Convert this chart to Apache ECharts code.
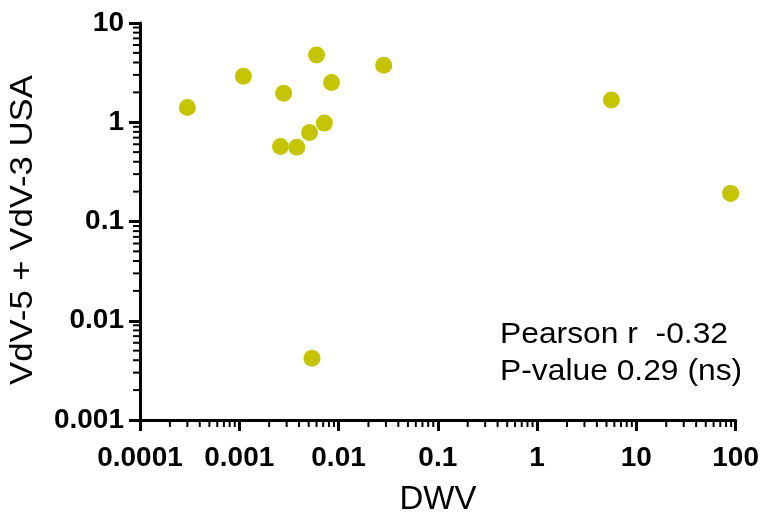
<!DOCTYPE html>
<html>
<head>
<meta charset="utf-8">
<script src="https://cdn.jsdelivr.net/npm/echarts@6/dist/echarts.min.js"></script>
<style>html,body{margin:0;padding:0;background:#fff}#c{width:762px;height:514px}</style>
</head>
<body>
<div id="c"></div>
<script>
// DWV (x) values
var dwv = [0.00030, 0.0011, 0.0028, 0.0060, 0.0085, 0.0285, 0.0072, 0.0051, 0.0026, 0.0038, 0.0054, 5.6, 89];
// VdV-5 + VdV-3 USA (y) values
var vdv = [1.41, 2.9, 1.96, 4.75, 2.52, 3.76, 0.98, 0.79, 0.57, 0.56, 0.0042, 1.68, 0.192];
var xTickLabels = ['0.0001', '0.001', '0.01', '0.1', '1', '10', '100'];
var yTickLabels = ['0.001', '0.01', '0.1', '1', '10'];
var statsLines = ['Pearson r  -0.32', 'P-value 0.29 (ns)'];
var xTitle = 'DWV';
var yTitle = 'VdV-5 + VdV-3 USA';

var X_MIN = 0.0001, X_MAX = 100, Y_MIN = 0.001, Y_MAX = 10;

function minorValues(minExp, maxExp) {
  var out = [];
  for (var e = minExp; e < maxExp; e++) {
    for (var m = 2; m <= 9; m++) out.push(m * Math.pow(10, e));
  }
  return out;
}
function labelFor(list, minExp) {
  return function (v) {
    var i = Math.round(Math.log10(v)) - minExp;
    return list[i] !== undefined ? list[i] : '';
  };
}

var FONT = '"Liberation Sans", Arial, sans-serif';
var TICK = '#000000';
var data = dwv.map(function (x, i) { return [x, vdv[i]]; });
var xMinorData = minorValues(-4, 2).map(function (v) { return [v, Y_MIN]; });
var yMinorData = minorValues(-3, 1).map(function (v) { return [X_MIN, v]; });

var chart = echarts.init(document.getElementById('c'));
chart.setOption({
  animation: false,
  backgroundColor: '#fff',
  grid: { left: 140, right: 25, top: 23, bottom: 94 },
  xAxis: {
    type: 'log', min: X_MIN, max: X_MAX,
    axisLine: { show: true, lineStyle: { color: '#000', width: 3 } },
    axisTick: { show: true, length: 11, lineStyle: { color: TICK, width: 3 } },
    axisLabel: { show: true, margin: 24, formatter: labelFor(xTickLabels, -4),
      fontFamily: FONT, fontSize: 28, fontWeight: 'bold', color: '#000' },
    splitLine: { show: false }
  },
  yAxis: {
    type: 'log', min: Y_MIN, max: Y_MAX,
    axisLine: { show: true, lineStyle: { color: '#000', width: 3 } },
    axisTick: { show: true, length: 11, lineStyle: { color: TICK, width: 3 } },
    axisLabel: { show: true, margin: 16, formatter: labelFor(yTickLabels, -3),
      fontFamily: FONT, fontSize: 28, fontWeight: 'bold', color: '#000' },
    splitLine: { show: false }
  },
  graphic: [{
    type: 'text', x: 500, y: 316, scaleX: 1.06,
    style: { text: statsLines.join('\n'), fontFamily: FONT, fontSize: 30, lineHeight: 37, fill: '#000' }
  }, {
    type: 'text', x: 438, y: 500,
    style: { text: xTitle, fontFamily: FONT, fontSize: 33, fill: '#000', align: 'center', verticalAlign: 'middle' }
  }, {
    type: 'text', x: 23, y: 230, rotation: Math.PI / 2, scaleX: 1.12,
    style: { text: yTitle, fontFamily: FONT, fontSize: 31, fill: '#000', align: 'center', verticalAlign: 'middle' }
  }],
  series: [{
    type: 'custom', clip: false,
    data: xMinorData,
    renderItem: function (params, api) {
      var p = api.coord([api.value(0), api.value(1)]);
      return { type: 'line', shape: { x1: p[0], y1: p[1], x2: p[0], y2: p[1] + 7 },
        style: { stroke: TICK, lineWidth: 2 } };
    }
  }, {
    type: 'custom', clip: false,
    data: yMinorData,
    renderItem: function (params, api) {
      var p = api.coord([api.value(0), api.value(1)]);
      return { type: 'line', shape: { x1: p[0], y1: p[1], x2: p[0] - 7, y2: p[1] },
        style: { stroke: TICK, lineWidth: 2 } };
    }
  }, {
    type: 'scatter', symbol: 'circle', symbolSize: 17,
    itemStyle: { color: '#c4c400', opacity: 1 },
    data: data
  }]
});
</script>
</body>
</html>
